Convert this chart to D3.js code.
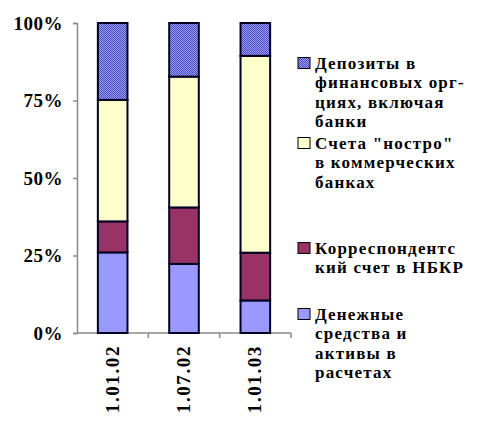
<!DOCTYPE html>
<html>
<head>
<meta charset="utf-8">
<script src="https://cdn.jsdelivr.net/npm/d3@7"></script>
<style>
  body { margin: 0; background: #fff; }
</style>
</head>
<body>
<div id="container"></div>
<script>
var width = 479,
    height = 431;

var FONT = "Liberation Serif, serif";

// data (percent of total)
var categories = ["1.01.02", "1.07.02", "1.01.03"];
var seriesNames = ["Денежные средства и активы в расчетах",
                   "Корреспондентский счет в НБКР",
                   "Счета \"ностро\" в коммерческих банках",
                   "Депозиты в финансовых орг-циях, включая банки"];
var cashValues = [26, 22.3, 10.5];
var corrValues = [10, 18.2, 15.4];
var nostroValues = [39.2, 42.2, 63.5];
var depositValues = [24.8, 17.3, 10.6];
var yTicks = [0, 25, 50, 75, 100];

// legend text as it is broken in the picture (top to bottom)
var legendLines = [
    ["Депозиты в", "финансовых орг-", "циях, включая", "банки"],
    ["Счета \"ностро\"", "в коммерческих", "банках"],
    ["Корреспондентс", "кий счет в НБКР"],
    ["Денежные", "средства и", "активы в", "расчетах"]
];
var legendTop = [63, 143, 248, 314];   // centre of first line of each entry

var colors = ["#9999ff", "#993366", "#ffffcc", "url(#dots)"];
var legendOrder = [3, 2, 1, 0];   // series index for each legend entry

var svg = d3.select("div#container")
    .append("svg")
    .attr("width", width)
    .attr("height", height)
    .attr("font-family", FONT)
    .attr("font-weight", "bold")

// dotted fill like the excel pattern
var defs = svg.append("defs")
var pat = defs.append("pattern")
    .attr("id", "dots")
    .attr("width", 2)
    .attr("height", 2)
    .attr("patternUnits", "userSpaceOnUse")
pat.append("rect").attr("width", 2).attr("height", 2).attr("fill", "#9a9af0")
pat.append("rect").attr("width", 1).attr("height", 1).attr("fill", "#4c4cc4")
pat.append("rect").attr("x", 1).attr("y", 1).attr("width", 1).attr("height", 1).attr("fill", "#4c4cc4")

var x = d3.scaleBand().domain(categories).range([77, 291]).padding(0)
var y = d3.scaleLinear().domain([0, 100]).range([333, 23])

var barW = x.bandwidth() * 0.415

// stack the series
var rows = categories.map(function (c, i) {
    return { cat: c, s0: cashValues[i], s1: corrValues[i], s2: nostroValues[i], s3: depositValues[i] }
})
var stack = d3.stack().keys(["s0", "s1", "s2", "s3"])
var layers = stack(rows)

// axes
var yAxis = svg.append("g")
    .attr("transform", "translate(77,0)")
    .call(d3.axisLeft(y).tickValues(yTicks).tickSize(4).tickFormat(function (d) { return d + "%" }))
yAxis.attr("font-family", FONT).attr("font-size", 19).attr("font-weight", "bold")
yAxis.select(".domain").attr("stroke", "#8a8a8a").attr("stroke-width", 1.5)
yAxis.selectAll(".tick line").attr("stroke", "#8a8a8a").attr("stroke-width", 1.5)
yAxis.selectAll(".tick text")
    .attr("x", -14)
    .attr("dy", "0.34em")
    .attr("letter-spacing", 0.5)
    .attr("fill", "#000")

var xAxis = svg.append("g")
    .attr("transform", "translate(0," + y(0) + ")")
xAxis.append("line")
    .attr("x1", 77).attr("x2", 291)
    .attr("stroke", "#8a8a8a").attr("stroke-width", 1.5)
xAxis.selectAll(".xtick")
    .data(categories.map(function (c) { return x(c) + x.bandwidth() }))
    .enter().append("line")
    .attr("x1", function (d) { return d }).attr("x2", function (d) { return d })
    .attr("y1", 0).attr("y2", 5)
    .attr("stroke", "#8a8a8a").attr("stroke-width", 1.5)

xAxis.selectAll(".xlabel")
    .data(categories)
    .enter().append("text")
    .attr("transform", function (d) {
        return "translate(" + (x(d) + x.bandwidth() / 2 + 6) + ",12) rotate(-90)"
    })
    .attr("text-anchor", "end")
    .attr("font-family", FONT)
    .attr("font-weight", "bold")
    .attr("font-size", 19)
    .attr("letter-spacing", 1.6)
    .text(function (d) { return d })

// bars
svg.selectAll(".layer")
    .data(layers)
    .enter().append("g")
    .attr("class", "layer")
    .attr("fill", function (d, i) { return colors[i] })
    .selectAll("rect")
    .data(function (d) { return d })
    .enter().append("rect")
    .attr("x", function (d) { return x(d.data.cat) + (x.bandwidth() - barW) / 2 })
    .attr("y", function (d) { return y(d[1]) })
    .attr("width", barW)
    .attr("height", function (d) { return y(d[0]) - y(d[1]) })
    .attr("stroke", "#000022")
    .attr("stroke-width", 2)

// legend
var legend = svg.append("g")
legendOrder.forEach(function (si, k) {
    var cy = legendTop[k]
    legend.append("rect")
        .attr("x", 298).attr("y", cy - 5.5)
        .attr("width", 12).attr("height", 11)
        .attr("fill", colors[si])
        .attr("stroke", "#000")
        .attr("stroke-width", 1)
    legendLines[k].forEach(function (line, j) {
        legend.append("text")
            .attr("x", 315)
            .attr("y", cy + j * 19.3 + 6)
            .attr("font-family", FONT)
            .attr("font-weight", "bold")
            .attr("font-size", 17)
            .attr("letter-spacing", 1.2)
            .text(line)
    })
})
</script>
</body>
</html>
